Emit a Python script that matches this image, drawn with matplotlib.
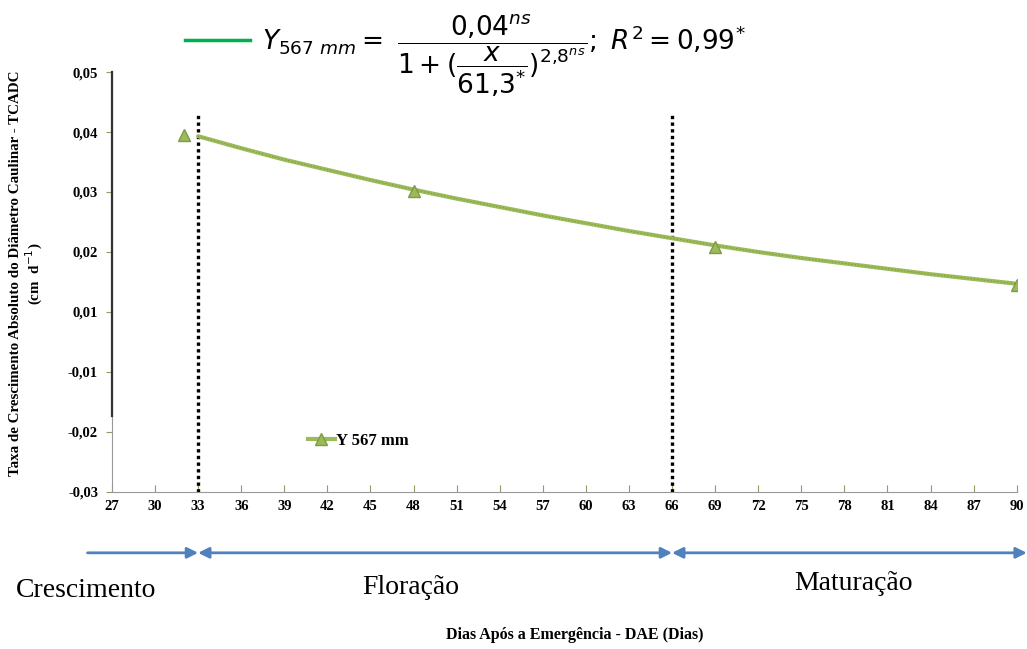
import numpy as np
import matplotlib.pyplot as plt

plt.rcParams['mathtext.fontset'] = 'dejavusans'

# observed means (triangles)
dias_obs = [32, 48, 69, 90]
tcadc_obs = [0.0395, 0.0302, 0.0208, 0.0145]

# fitted curve, read every 3 days
dias_fit = [33, 36, 39, 42, 45, 48, 51, 54, 57, 60, 63, 66, 69, 72, 75, 78, 81, 84, 87, 90]
tcadc_fit = [0.0393, 0.0373, 0.0354, 0.0337, 0.0320, 0.0304, 0.0289, 0.0275, 0.0261, 0.0248,
             0.0235, 0.0223, 0.0211, 0.0200, 0.0190, 0.0181, 0.0172, 0.0163, 0.0155, 0.0147]

xticks = list(range(27, 91, 3))
yticks = [0.05, 0.04, 0.03, 0.02, 0.01, 0.0, -0.01, -0.02]
ylabels = ['0,05', '0,04', '0,03', '0,02', '0,01', '-0,01', '-0,02', '-0,03']

fases = ['Crescimento', 'Floração', 'Maturação']
limites = [33, 66]

fig = plt.figure(figsize=(10.27, 6.49), dpi=100)
ax = fig.add_axes([0.109, 0.242, 0.881, 0.647])

verde = '#9BBB59'
ax.plot(dias_fit, tcadc_fit, color=verde, lw=3, solid_capstyle='round', zorder=3)
ax.plot(dias_fit, tcadc_fit, color='#4a5a2a', lw=0.6, ls=(0, (1, 3)), alpha=0.6, zorder=3)
ax.plot(dias_obs, tcadc_obs, ls='none', marker='^', ms=8, color=verde,
        markeredgecolor='#7f9a48', zorder=4)

# legend entry
ax.plot([], [], color=verde, lw=3, marker='^', ms=8, markeredgecolor='#7f9a48', label='Y 567 mm')
ax.legend(loc='center left', bbox_to_anchor=(0.2, 0.122), frameon=False, handlelength=1.6,
          handletextpad=0.1, prop={'family': 'Liberation Serif', 'weight': 'bold', 'size': 12})

# phase limits
for d in limites:
    ax.axvline(d, ymin=0, ymax=0.905, color='black', lw=2.4, ls=(0, (1, 1)), zorder=2)

ax.set_xlim(27, 90)
ax.set_ylim(-0.02, 0.05)
ax.set_xticks(xticks)
ax.set_yticks(yticks)
ax.set_yticklabels(ylabels)
for lab in ax.get_xticklabels() + ax.get_yticklabels():
    lab.set_fontfamily('Liberation Serif')
    lab.set_fontweight('bold')
    lab.set_fontsize(10.5)
ax.tick_params(axis='x', direction='in', length=5, color='#8aa060', pad=6)
ax.tick_params(axis='y', direction='out', length=4, color='#8aa060', pad=6)

for s in ['top', 'right']:
    ax.spines[s].set_visible(False)
ax.spines['left'].set_color('#999999')
ax.spines['bottom'].set_color('#999999')
ax.axvline(27, ymin=0.18, ymax=1, color='#333333', lw=1.6, clip_on=False, zorder=5)

ax.set_ylabel('Taxa de Crescimento Absoluto do Diâmetro Caulinar - TCADC\n(cm  d$^{-1}$)',
              fontfamily='Liberation Serif', fontweight='bold', fontsize=10.8,
              linespacing=1.15)
ax.yaxis.set_label_coords(-0.074, 0.52)

# phase arrows below the axis
yarr = -0.145
trans = ('data', 'axes fraction')
seta = dict(color='#4F81BD', lw=2, mutation_scale=16, shrinkA=0, shrinkB=0)
ax.annotate('', xy=(limites[0], yarr), xytext=(25.3, yarr), xycoords=trans, textcoords=trans,
            arrowprops=dict(arrowstyle='-|>', **seta), annotation_clip=False)
ax.annotate('', xy=(limites[1], yarr), xytext=(limites[0], yarr), xycoords=trans, textcoords=trans,
            arrowprops=dict(arrowstyle='<|-|>', **seta), annotation_clip=False)
ax.annotate('', xy=(90.7, yarr), xytext=(limites[1], yarr), xycoords=trans, textcoords=trans,
            arrowprops=dict(arrowstyle='<|-|>', **seta), annotation_clip=False)

fig.text(0.084, 0.090, fases[0], ha='center', va='center', fontsize=20, fontfamily='Liberation Serif')
fig.text(0.400, 0.095, fases[1], ha='center', va='center', fontsize=20, fontfamily='Liberation Serif')
fig.text(0.831, 0.101, fases[2], ha='center', va='center', fontsize=20, fontfamily='Liberation Serif')

fig.text(0.560, 0.022, 'Dias Após a Emergência - DAE (Dias)', ha='center', va='center',
         fontsize=11.5, fontfamily='Liberation Serif', fontweight='bold')

# fitted equation on top
fig.add_artist(plt.Line2D([0.180, 0.243], [0.938, 0.938], color='#00B050', lw=2.5))
fig.text(0.255, 0.915,
         r'$Y_{567\ mm}=\ \dfrac{0{,}04^{ns}}{1+(\dfrac{x}{61{,}3^{*}})^{2{,}8^{ns}}};\ R^{2}=0{,}99^{*}$',
         ha='left', va='center', fontsize=19)

fig.savefig('out.png', dpi=100)
